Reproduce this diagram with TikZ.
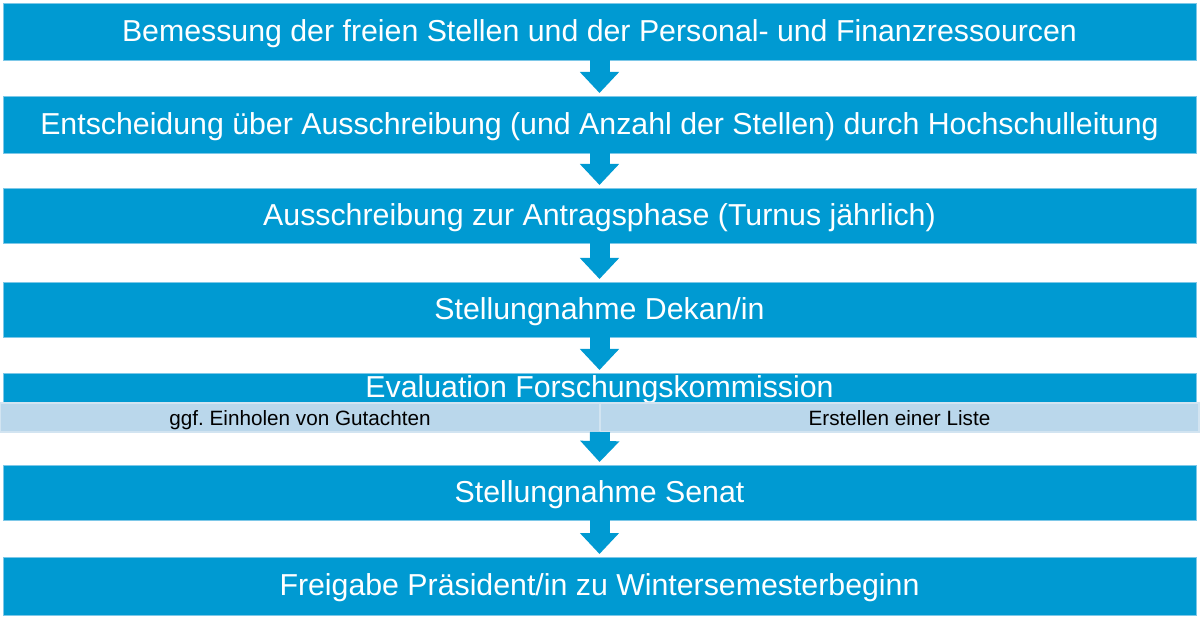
\documentclass[tikz,border=0pt]{standalone}
\usepackage{fontspec}
\setmainfont{Liberation Sans}
\usetikzlibrary{arrows.meta}
\frenchspacing
\definecolor{barblue}{RGB}{0,154,210}
\definecolor{baredge}{RGB}{125,200,232}
\definecolor{bandblue}{RGB}{186,215,235}
\definecolor{bandedge}{RGB}{210,228,241}
\begin{document}
\begin{tikzpicture}[x=1pt,y=-1pt,
  bar/.style={fill=barblue, draw=baredge, line width=0.8pt, text=white,
    font=\fontsize{30.3}{35}\selectfont, minimum width=1193pt,
    inner sep=0pt, outer sep=0pt, anchor=north west,
    text height=24pt, text depth=4.5pt},
  band/.style={fill=bandblue, draw=bandedge, line width=2pt, text=black,
    font=\fontsize{20.7}{24}\selectfont, minimum height=29pt,
    inner sep=0pt, outer sep=0pt, anchor=north west,
    text height=18pt, text depth=2pt},
  flow/.style={draw=barblue, line width=20pt,
    -{Triangle[width=38pt,length=21pt]}, shorten >=3pt}]
\useasboundingbox (0,0) rectangle (1200,620);
\fill[white] (0,0) rectangle (1200,620);
\node[bar, minimum height=57pt] (b1) at (3,3) {Bemessung der freien Stellen und der Personal- und Finanzressourcen};
\node[bar, minimum height=57pt] (b2) at (3,96) {Entscheidung über Ausschreibung (und Anzahl der Stellen) durch Hochschulleitung};
\node[bar, minimum height=55pt] (b3) at (3,188) {Ausschreibung zur Antragsphase (Turnus jährlich)};
\node[bar, minimum height=55pt] (b4) at (3,282) {Stellungnahme Dekan/in};
\node[bar, minimum height=30pt] (b5) at (3,373) {Evaluation Forschungskommission};
\node[band, minimum width=600pt] (bandL) at (0,403) {ggf. Einholen von Gutachten};
\node[band, minimum width=599pt] (bandR) at (600,403) {Erstellen einer Liste};
\node[bar, minimum height=55pt] (b6) at (3,465) {Stellungnahme Senat};
\node[bar, minimum height=58pt] (b7) at (3,557) {Freigabe Präsident/in zu Wintersemesterbeginn};
\draw[flow] (b1.south) -- (b2.north);
\draw[flow] (b2.south) -- (b3.north);
\draw[flow] (b3.south) -- (b4.north);
\draw[flow] (b4.south) -- (b5.north);
\draw[flow] (bandL.south east) -- (b6.north);
\draw[flow] (b6.south) -- (b7.north);
\end{tikzpicture}
\end{document}
